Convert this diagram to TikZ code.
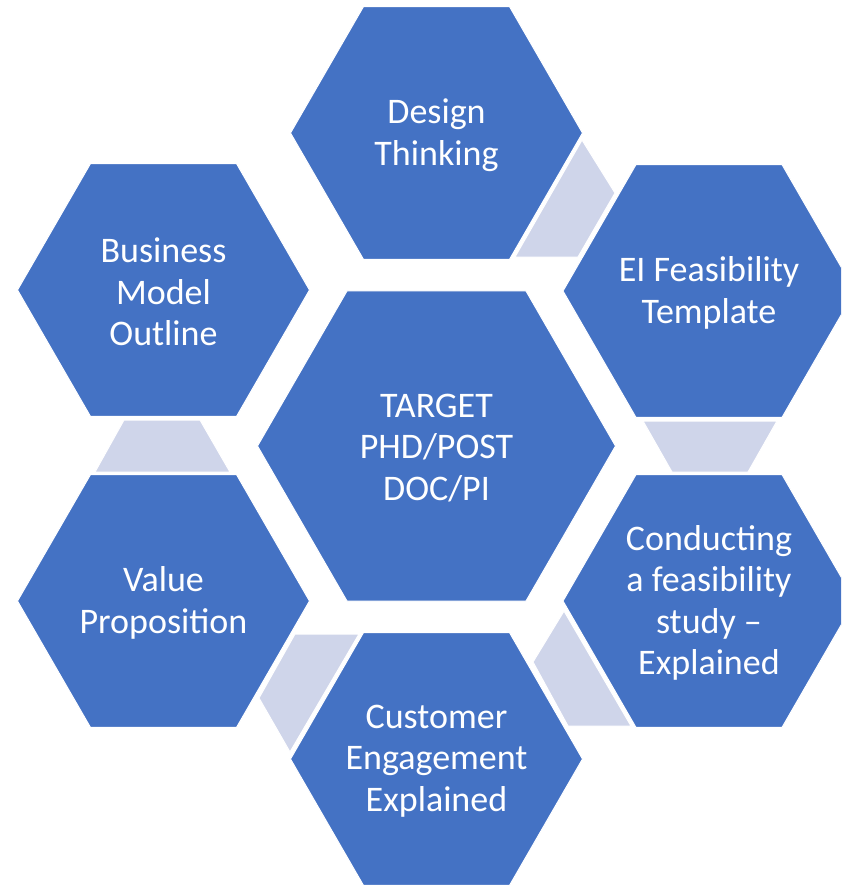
\documentclass[tikz,border=0pt]{standalone}
\usepackage{fontspec}
\setmainfont{Carlito}
\definecolor{hexblue}{HTML}{4472C4}
\definecolor{linkfill}{HTML}{CFD5EA}
\tikzset{
  hexshape/.style={fill=hexblue, draw=white, line width=1pt},
  linkshape/.style={fill=linkfill, draw=white, line width=1pt},
  hextext/.style={text=white, align=center, font=\fontsize{36}{41.5}\selectfont, inner sep=0pt, yshift=-2pt},
}
\newcommand{\hexagonat}[2]{%
  \path[hexshape] (#1) ++(0:#2) -- ++(120:#2) -- ++(180:#2) -- ++(240:#2) -- ++(300:#2) -- ++(0:#2) -- cycle;
}
\begin{document}
\begin{tikzpicture}[x=1pt,y=-1pt]
\useasboundingbox (0,0) rectangle (841,889);
\clip (0,0) rectangle (841,889);
% centres
\coordinate (cD) at (436.5,133);
\coordinate (cE) at (709,291);
\coordinate (cC) at (709,601);
\coordinate (cU) at (436.5,759);
\coordinate (cV) at (163.5,601);
\coordinate (cB) at (163.5,290);
\coordinate (cT) at (436.5,446);
% link shapes
\path[linkshape] (582,140) -- (615,193) -- (578,257) -- (515,257) -- cycle;
\path[linkshape] (643,421) -- (777,421) -- (748,472) -- (672,472) -- cycle;
\path[linkshape] (564,611) -- (533,662) -- (568,726) -- (631,726) -- cycle;
\path[linkshape] (295,634) -- (359,634) -- (290,752) -- (259,698) -- cycle;
\path[linkshape] (124,420) -- (200,420) -- (230,472) -- (95,472) -- cycle;
% hexagons
\hexagonat{cD}{146pt}
\hexagonat{cE}{146pt}
\hexagonat{cC}{146pt}
\hexagonat{cU}{146pt}
\hexagonat{cV}{146pt}
\hexagonat{cB}{146pt}
\hexagonat{cT}{179pt}
% texts
\node[hextext] (design) at (cD) {Design\\Thinking};
\node[hextext] (eifeas) at (cE) {EI Feasibility\\Template};
\node[hextext] (conduct) at (cC) {Conducting\\a feasibility\\study --\\Explained};
\node[hextext] (customer) at (cU) {Customer\\Engagement\\Explained};
\node[hextext] (value) at (cV) {Value\\Proposition};
\node[hextext] (business) at (cB) {Business\\Model\\Outline};
\node[hextext] (target) at (cT) {TARGET\\PHD/POST\\DOC/PI};
\end{tikzpicture}
\end{document}
